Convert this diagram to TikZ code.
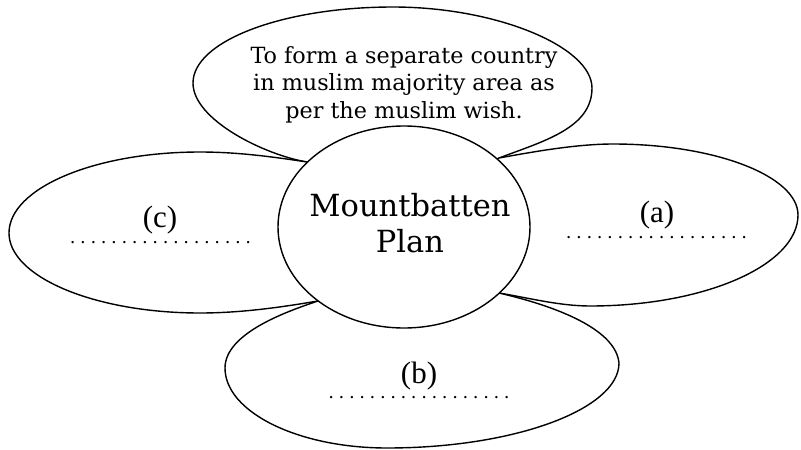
\documentclass[tikz,border=0pt]{standalone}
\usepackage{fontspec}
\setmainfont{DejaVu Serif}
\newfontfamily\labfont{Liberation Serif}
\usetikzlibrary{shapes.geometric}
\newcommand\mydotrow{\makebox[185.9pt]{\xleaders\hbox to 10.3pt{\hss.\hss}\hfill}}
\begin{document}
\begin{tikzpicture}[x=1pt,y=-1pt,line width=1.4pt,
  petal/.style={draw=black,fill=white,line join=round},
  hub/.style={draw=black,fill=white,ellipse,minimum width=252pt,minimum height=202pt,inner sep=0pt},
  lab/.style={font=\labfont\fontsize{31}{31}\selectfont,inner sep=0pt,anchor=base},
  dotrow/.style={font=\fontsize{18}{18}\selectfont,inner sep=0pt,anchor=base},
  bigtext/.style={font=\fontsize{30.5}{36}\selectfont,align=center,inner sep=0pt},
  toptext/.style={font=\fontsize{22.3}{27.5}\selectfont,align=center,inner sep=0pt}]
\useasboundingbox (0,0) rectangle (801,450);
% top petal
\draw[petal] (307,162) .. controls (265,155) and (193,120) .. (193,83)
  .. controls (193,41) and (283,7) .. (393,7)
  .. controls (497,7) and (592,47) .. (592,88)
  .. controls (592,128) and (544,141) .. (499,158)
  -- (404,227) -- cycle;
% left petal
\draw[petal] (307,162) .. controls (277,157.5) and (240,152) .. (200,152)
  .. controls (95,152) and (9,188) .. (9,233)
  .. controls (9,277) and (95,313) .. (200,313)
  .. controls (245,313) and (288,306) .. (318,301)
  -- (404,227) -- cycle;
% right petal
\draw[petal] (499,158) .. controls (529,152.6) and (575,144) .. (613,144)
  .. controls (715,144) and (798,176) .. (798,215)
  .. controls (798,265) and (705,306) .. (590,306)
  .. controls (560,306) and (529,298) .. (499,293)
  -- (404,227) -- cycle;
% bottom petal
\draw[petal] (318,301) .. controls (288,311) and (225,333) .. (225,368)
  .. controls (225,412) and (298,448) .. (387,448)
  .. controls (515,448) and (619,409) .. (619,363)
  .. controls (615,320) and (520,298) .. (499,293)
  -- (404,227) -- cycle;
% centre
\node[hub] (plan) at (404,227) {};
\node[bigtext] (plantxt) at (410,223.5) {Mountbatten\\Plan};
\node[toptext] (toptxt) at (404,84.5) {To form a separate country\\in muslim majority area as\\per the muslim wish.};
% labels
\node[lab] (la) at (657,222) {(a)};
\node[lab] (lb) at (419,383) {(b)};
\node[lab] (lc) at (160,227.5) {(c)};
\node[dotrow] (da) at (656.5,238.6) {\mydotrow};
\node[dotrow] (db) at (419,398.6) {\mydotrow};
\node[dotrow] (dc) at (160.5,243.6) {\mydotrow};
\end{tikzpicture}
\end{document}
